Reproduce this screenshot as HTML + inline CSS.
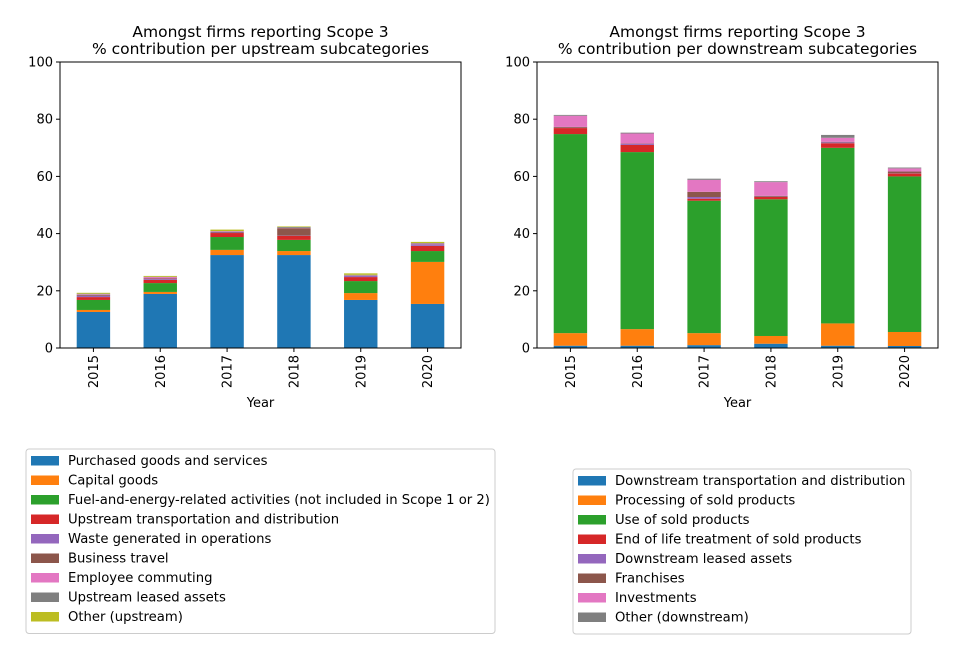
<!DOCTYPE html>
<html><head><meta charset="utf-8"><style>
body{margin:0;background:#fff;font-family:"DejaVu Sans","Liberation Sans",sans-serif;}
svg text{font-family:"DejaVu Sans","Liberation Sans",sans-serif;}
</style></head><body>
<svg id="c" width="974" height="645" xmlns="http://www.w3.org/2000/svg"></svg>
<script>
const years=['2015','2016','2017','2018','2019','2020'];
const upNames=['Purchased goods and services','Capital goods','Fuel-and-energy-related activities (not included in Scope 1 or 2)','Upstream transportation and distribution','Waste generated in operations','Business travel','Employee commuting','Upstream leased assets','Other (upstream)'];
const upPurchased=[12.6,18.9,32.5,32.5,16.8,15.4];
const upCapital=[0.7,0.7,1.8,1.4,2.4,14.7];
const upFuel=[3.5,3.1,4.5,3.9,4.2,3.8];
const upTransport=[1.0,1.1,1.4,1.4,1.4,1.8];
const upWaste=[0.5,0.3,0.2,0.1,0.4,0.5];
const upTravel=[0.3,0.2,0.2,2.6,0.1,0.1];
const upCommuting=[0.2,0.5,0.2,0.1,0.1,0.2];
const upLeased=[0.2,0.1,0.1,0.3,0.2,0.2];
const upOther=[0.3,0.3,0.5,0.2,0.5,0.4];
const downNames=['Downstream transportation and distribution','Processing of sold products','Use of sold products','End of life treatment of sold products','Downstream leased assets','Franchises','Investments','Other (downstream)'];
const dnTransport=[0.8,0.8,1.0,1.5,0.8,0.7];
const dnProcessing=[4.4,5.8,4.2,2.7,7.8,4.9];
const dnUse=[69.6,61.9,46.3,47.8,61.4,54.4];
const dnEndLife=[2.1,2.5,0.7,0.8,1.6,1.0];
const dnLeased=[0.1,0.4,0.6,0.1,0.3,0.1];
const dnFranchises=[0.3,0.1,1.8,0.3,0.2,0.6];
const dnInvestments=[3.9,3.5,4.2,4.8,1.4,1.1];
const dnOther=[0.3,0.3,0.4,0.3,1.0,0.3];
const yTicks=[0,20,40,60,80,100];
const colors=['#1f77b4','#ff7f0e','#2ca02c','#d62728','#9467bd','#8c564b','#e377c2','#7f7f7f','#bcbd22'];
const upSeries=[upPurchased,upCapital,upFuel,upTransport,upWaste,upTravel,upCommuting,upLeased,upOther];
const dnSeries=[dnTransport,dnProcessing,dnUse,dnEndLife,dnLeased,dnFranchises,dnInvestments,dnOther];
const svg=document.getElementById('c');const NS='http://www.w3.org/2000/svg';
function mk(t,a,txt){const e=document.createElementNS(NS,t);for(const k in a)e.setAttribute(k,a[k]);if(txt!==undefined)e.textContent=txt;svg.appendChild(e);return e;}
function panel(x0,x1,series,names,t2,key){
 const yT=62,yB=348;const ys=v=>yB-(v/100)*(yB-yT);const step=(x1-x0)/years.length;const xs=i=>x0+step*(i+0.5);const bw=step*0.5;
 series.forEach((s,si)=>{years.forEach((y,i)=>{let base=0;for(let k=0;k<si;k++)base+=series[k][i];
  const r=mk('rect',{x:xs(i)-bw/2,y:ys(base+s[i]),width:bw,height:ys(base)-ys(base+s[i]),fill:colors[si]});
  
  });});
 const fr=mk('rect',{x:x0,y:yT,width:x1-x0,height:yB-yT,fill:'none',stroke:'#000','stroke-width':1});
 
 yTicks.forEach(t=>{mk('line',{x1:x0-4,x2:x0,y1:ys(t),y2:ys(t),stroke:'#000'});
  const tx=mk('text',{x:x0-7,y:ys(t)+4.5,'font-size':13,'text-anchor':'end'},t);
  });
 years.forEach((y,i)=>{mk('line',{x1:xs(i),x2:xs(i),y1:yB,y2:yB+4,stroke:'#000'});
  const tx=mk('text',{x:0,y:0,'font-size':13,'text-anchor':'end',transform:`translate(${xs(i)+4.5},${yB+7}) rotate(-90)`},y);
  });
 const xl=mk('text',{x:(x0+x1)/2,y:407,'font-size':13,'text-anchor':'middle'},'Year');
 
 const t1=mk('text',{x:(x0+x1)/2,y:37,'font-size':15.5,'text-anchor':'middle'},'Amongst firms reporting Scope 3');
 
 const t3=mk('text',{x:(x0+x1)/2,y:54,'font-size':15.5,'text-anchor':'middle'},t2);
 
}
function legend(x,y,w,names,key){
 const h=names.length*19.5+9;
 const b=mk('rect',{x:x,y:y,width:w,height:h,rx:3,fill:'#fff',stroke:'#ccc'});
 
 names.forEach((n,i)=>{const cy=y+11+i*19.5;
  const p=mk('rect',{x:x+5,y:cy-4,width:28,height:9.5,fill:colors[i]});
  
  const t=mk('text',{x:x+42,y:cy+5,'font-size':13.2},n);
  });
}
panel(60,461,upSeries,upNames,'% contribution per upstream subcategories','upstream');
panel(537,938,dnSeries,downNames,'% contribution per downstream subcategories','downstream');
legend(26,449,469,upNames,'upstream');
legend(573,469,338,downNames,'downstream');
</script>
</body></html>
